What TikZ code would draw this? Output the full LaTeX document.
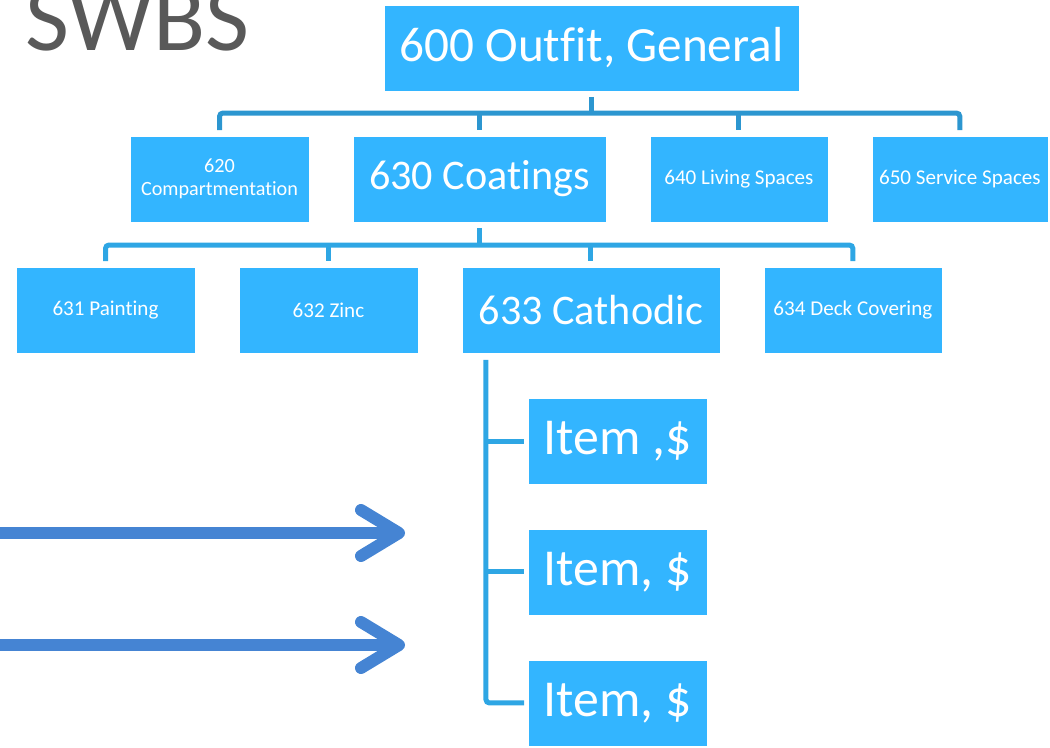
\documentclass[tikz,border=0pt]{standalone}
\usepackage{fontspec}
\setmainfont{Carlito}[Ligatures=CommonOff]
\usepackage{tikz}
\usetikzlibrary{positioning}
\usetikzlibrary{arrows.meta}
\usepackage{xcolor}
\definecolor{boxblue}{RGB}{51,181,255}
\definecolor{busdark}{RGB}{44,150,208}
\definecolor{buslight}{RGB}{46,166,228}
\definecolor{arrowblue}{RGB}{69,132,211}
\definecolor{titlegray}{RGB}{89,89,89}

\begin{document}
\begin{tikzpicture}[x=0.02cm, y=-0.02cm, node distance=0.88cm,
    box/.style={draw=white, line width=0.4pt, fill=boxblue, text=white, inner sep=0pt, outer sep=0pt, minimum height=1.72cm, align=center},
    small/.style={font=\fontsize{12}{14}\selectfont},
    large/.style={font=\fontsize{24}{24}\selectfont},
    huge/.style={font=\fontsize{29.5}{30}\selectfont},
    conn/.style={line width=0.1cm, rounded corners=2pt, shorten <=0.12cm, shorten >=0.12cm},
    bigarrow/.style={arrowblue, line width=0.24cm, -{Straight Barb[length=0.76cm, width=0.92cm, round]}}]
    \useasboundingbox (0,0) rectangle (1050,747);

    % Title
    \node (title) [anchor=base west, text=titlegray, inner sep=0pt, font=\fontsize{54.5}{54.5}\selectfont] at (25,50) {SWBS};

    % Top of the breakdown
    \node (gen) [box, minimum width=8.3cm, font=\fontsize{28}{28}\selectfont] at (591.5,48) {600 Outfit, General};

    % Second level
    \node (comp) [box, minimum width=3.58cm, font=\fontsize{11.5}{13}\selectfont] at (219.5,179) {620\\Compartmentation};
    \node (coat) [box, right=of comp, minimum width=5.06cm, large] {630 Coatings};
    \node (live) [box, right=of coat, minimum width=3.56cm, small] {640 Living Spaces};
    \node (serv) [box, right=of live, minimum width=3.52cm, small] {650 Service Spaces};

    % Third level under coatings
    \node (paint) [box, minimum width=3.58cm, small] at (105.5,310) {631 Painting};
    \node (zinc) [box, right=of paint, minimum width=3.58cm, small] {632 Zinc};
    \node (cath) [box, right=of zinc, minimum width=5.16cm, large] {633 Cathodic};
    \node (deck) [box, right=of cath, minimum width=3.56cm, small] {634 Deck Covering};

    % Items under cathodic
    \node (item1) [box, minimum width=3.58cm, huge] at (617.5,441) {Item ,\$};
    \node (item2) [box, below=0.9cm of item1, minimum width=3.58cm, huge] {Item, \$};
    \node (item3) [box, below=0.9cm of item2, minimum width=3.58cm, huge] {Item, \$};

    % Lines from 600 to second level
    \coordinate (bus1) at (591,113);
    \draw[conn, busdark] (comp.north) |- (bus1) -| (serv.north);
    \draw[conn, busdark, shorten >=0pt] (gen.south) -- (gen.south |- bus1);
    \foreach \n in {coat,live}
        \draw[conn, busdark, shorten <=0pt] (\n.north |- bus1) -- (\n.north);

    % Lines from 630 to third level
    \coordinate (bus2) at (480,245);
    \draw[conn, buslight] (paint.north) |- (bus2) -| (deck.north);
    \draw[conn, buslight, shorten >=0pt] (coat.south) -- (coat.south |- bus2);
    \foreach \n in {zinc,cath}
        \draw[conn, buslight, shorten <=0pt] (\n.north |- bus2) -- (\n.north);

    % Lines from 633 to the items
    \coordinate (itop) at ([xshift=0.48cm]cath.south west);
    \draw[conn, buslight, shorten <=0.14cm, shorten >=0.08cm] (itop) |- (item3.west);
    \foreach \n in {item1,item2}
        \draw[conn, buslight, shorten <=0pt, shorten >=0.08cm] (itop |- \n.west) -- (\n.west);

    % Arrows from the left
    \coordinate (arr1s) at (0,533);
    \coordinate (arr1e) at (405,533);
    \coordinate (arr2s) at (0,645);
    \coordinate (arr2e) at (405,645);
    \draw[bigarrow] (arr1s) -- (arr1e);
    \draw[bigarrow] (arr2s) -- (arr2e);
\end{tikzpicture}
\end{document}
